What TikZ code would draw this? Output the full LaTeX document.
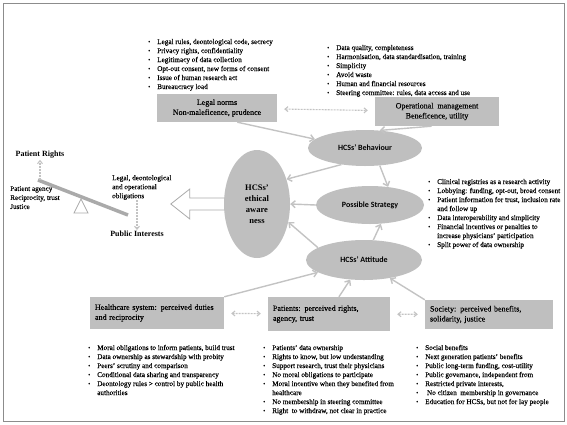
\documentclass[tikz,border=0pt]{standalone}
\usepackage{fontspec}
\setmainfont{Liberation Serif}
\newfontfamily\txtfont{Liberation Serif}[FakeBold=0.3]
\newfontfamily\calfont{Carlito}
\usetikzlibrary{arrows.meta,shapes.geometric,backgrounds}
\definecolor{boxgray}{RGB}{191,191,191}
\definecolor{linegray}{RGB}{195,195,195}
\definecolor{framegray}{RGB}{140,140,140}
\definecolor{beamgray}{RGB}{170,170,170}
\newcommand{\bu}{\raisebox{.15ex}{\scalebox{.8}{•}}}

\begin{document}
\begin{tikzpicture}[x=1pt,y=-1pt,
  box/.style={fill=boxgray, inner sep=3pt, font=\txtfont\fontsize{8}{10}\selectfont},
  oval/.style={ellipse, fill=boxgray, inner sep=0pt, font=\calfont\bfseries\fontsize{8}{10}\selectfont},
  lst/.style={anchor=base west, inner sep=0pt, font=\txtfont\fontsize{7.2}{9}\selectfont},
  lbl/.style={inner sep=0pt, align=left, font=\txtfont\fontsize{7.2}{9}\selectfont},
  link/.style={draw=linegray, line width=1.4pt, -{Straight Barb[length=4pt,width=7pt]}},
  dlink/.style={draw=linegray, line width=1.1pt, dash pattern=on 2pt off 1pt, shorten <=7pt, shorten >=7pt,
    {Straight Barb[length=3pt,width=5pt]}-{Straight Barb[length=3pt,width=5pt]}},
  slink/.style={draw=linegray, line width=1.1pt, dash pattern=on 2pt off 1pt,
    -{Straight Barb[length=3pt,width=5pt]}},
]
\useasboundingbox (0,0) rectangle (567,424);
\draw[framegray, line width=0.8pt] (3,3) rectangle (564,421);

% top lists
\node[lst] (legallist) at (148,44) {\begin{tabular}[t]{@{}l@{\hspace{7pt}}l@{}}
\bu & Legal rules, deontological code, secrecy\\
\bu & Privacy rights, confidentiality\\
\bu & Legitimacy of data collection\\
\bu & Opt-out consent, new forms of consent\\
\bu & Issue of human research act\\
\bu & Bureaucracy load
\end{tabular}};
\node[lst] (oplist) at (327,50) {\begin{tabular}[t]{@{}l@{\hspace{7pt}}l@{}}
\bu & Data quality, completeness\\
\bu & Harmonisation, data standardisation, training\\
\bu & Simplicity\\
\bu & Avoid waste\\
\bu & Human and financial resources\\
\bu & Steering committee: rules, data access and use
\end{tabular}};

% boxes on top
\node[box, minimum width=120pt, minimum height=28pt, align=center] (legal) at (217,108)
  {Legal norms\\Non-maleficence, prudence};
\node[box, minimum width=124pt, minimum height=29pt, align=center] (oper) at (437,111.5)
  {Operational\ \ management\\Beneficence, utility};
\draw[dlink] (legal) -- (oper);

% ellipses
\node[oval, minimum width=114pt, minimum height=36pt] (behav) at (365,148) {HCSs’ Behaviour};
\node[oval, minimum width=108pt, minimum height=38pt] (strat) at (370,205) {Possible Strategy};
\node[oval, minimum width=116pt, minimum height=40pt] (attit) at (364,260) {HCSs’ Attitude};
\node[ellipse, fill=boxgray, minimum width=66pt, minimum height=108pt, inner sep=0pt, align=center,
  font=\bfseries\fontsize{8.5}{11}\selectfont] (ethic) at (257,204) {HCSs’\\ethical\\aware\\ness};

% hollow arrow
\begin{scope}[on background layer]
\draw[draw=beamgray, fill=white, line width=0.8pt] (ethic.west) ++(10,-6) -- ++(-44,0) -- ++(0,-9)
  -- ++(-19,15) -- ++(19,15) -- ++(0,-9) -- ++(44,0);
\end{scope}

% left side
\node[font=\bfseries\fontsize{8}{10}\selectfont, inner sep=1pt] (rights) at (40,155) {Patient Rights};
\node[lbl, anchor=north west] (agency) at (10,186) {Patient agency\\Reciprocity, trust\\Justice};
\node[lbl, anchor=north west] (oblig) at (112,175) {Legal, deontological\\and operational\\obligations};
\node[font=\bfseries\fontsize{8}{10}\selectfont, inner sep=1pt] (public) at (137,234) {Public Interests};
\draw[beamgray, line width=3.5pt] (38,180) -- (128,215);
\draw[beamgray, fill=white, line width=0.7pt] (81,199) -- (88,213) -- (74,213) -- cycle;
\draw[slink] (agency.north -| rights.south) ++(0,-6) -- (rights.south);
\draw[slink] (oblig.south -| public.north) -- (public.north);

% strategy list
\node[lst] (stratlist) at (428,184) {\begin{tabular}[t]{@{}l@{\hspace{7pt}}l@{}}
\bu & Clinical registries as a research activity\\
\bu & Lobbying: funding, opt-out, broad consent\\
\bu & Patient information for trust, inclusion rate\\
    & and follow up\\
\bu & Data interoperability and simplicity\\
\bu & Financial incentives or penalties to\\
    & increase physicians’ participation\\
\bu & Split power of data ownership
\end{tabular}};

% bottom boxes
\node[box, minimum width=134pt, minimum height=32pt, text width=124pt, align=left] (health) at (157,313)
  {Healthcare system: perceived duties\\and reciprocity};
\node[box, minimum width=122pt, minimum height=34pt, text width=112pt, align=left] (patient) at (329,314)
  {Patients: perceived rights,\\agency, trust};
\node[box, minimum width=128pt, minimum height=29pt, text width=118pt, align=left] (society) at (489,314.5)
  {Society: perceived benefits,\\solidarity, justice};
\draw[dlink] (health) -- (patient);
\draw[dlink] (patient) -- (society);

% bottom lists
\node[lst] (healthlist) at (88,350) {\begin{tabular}[t]{@{}l@{\hspace{7pt}}l@{}}
\bu & Moral obligations to inform patients, build trust\\
\bu & Data ownership as stewardship with probity\\
\bu & Peers’ scrutiny and comparison\\
\bu & Conditional data sharing and transparency\\
\bu & Deontology rules > control by public health\\
    & authorities
\end{tabular}};
\node[lst] (patientlist) at (263,350) {\begin{tabular}[t]{@{}l@{\hspace{7pt}}l@{}}
\bu & Patients’ data ownership\\
\bu & Rights to know, but low understanding\\
\bu & Support research, trust their physicians\\
\bu & No moral obligations to participate\\
\bu & Moral incentive when they benefited from\\
    & healthcare\\
\bu & No membership in steering committee\\
\bu & Right\ \ to withdraw, not clear in practice
\end{tabular}};
\node[lst] (societylist) at (416,350) {\begin{tabular}[t]{@{}l@{\hspace{7pt}}l@{}}
\bu & Social benefits\\
\bu & Next generation patients’ benefits\\
\bu & Public long-term funding, cost-utility\\
\bu & Public governance, independent from\\
\bu & Restricted private interests,\\
\bu & \ No citizen\ \ membership in governance\\
\bu & Education for HCSs, but not for lay people
\end{tabular}};

% connectors
\draw[link] (legal.-35) -- (behav.170);
\draw[link] (oper.-110) -- (behav.50);
\draw[link] (behav.215) -- (ethic.40);
\draw[link] (behav.-50) -- (strat.45);
\draw[link] (strat.west) -- (ethic.east);
\draw[link] (attit.165) -- (ethic.-30);
\draw[link] (attit.65) -- (strat.-60);
\draw[link] (health.north east) -- (attit.195);
\draw[link] (patient.60) -- (attit.235);
\draw[link] (society.north west) -- (attit.-35);
\end{tikzpicture}
\end{document}
